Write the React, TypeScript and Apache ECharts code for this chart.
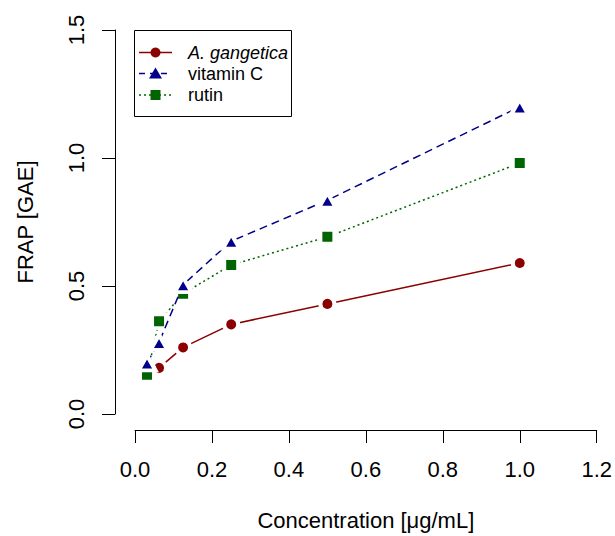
import React, { useEffect, useRef } from "react";
import * as echarts from "echarts";

const concentrations = [0.03125, 0.0625, 0.125, 0.25, 0.5, 1.0];
const gangetica = [null, 0.18, 0.26, 0.35, 0.43, 0.59];
const vitaminC = [0.2, 0.28, 0.505, 0.675, 0.835, 1.2];
const rutin = [0.153, 0.362, 0.47, 0.582, 0.692, 0.98];
const xTicks = [0, 0.2, 0.4, 0.6, 0.8, 1.0, 1.2];
const yTicks = [0, 0.5, 1.0, 1.5];
const seriesNames = ["A. gangetica", "vitamin C", "rutin"];

const RED = "#8B0000";
const BLUE = "#00008B";
const GREEN = "#006400";
const FONT = "'Liberation Sans', Arial, sans-serif";
const GAP = 4;

function pairs(vals: (number | null)[]) {
  const out: [number, number][] = [];
  vals.forEach((v, i) => {
    if (v !== null) out.push([concentrations[i], v]);
  });
  return out;
}

export default function App() {
  const ref = useRef<HTMLDivElement>(null);
  useEffect(() => {
    if (!ref.current) return;
    const chart = echarts.init(ref.current, undefined, { renderer: "svg" });
    const ly = [52.5, 73.5, 95];
    const option: any = {
      animation: false,
      backgroundColor: "#fff",
      textStyle: { fontFamily: FONT },
      grid: { left: 135, right: 17, top: 30, bottom: 115, containLabel: false },
      xAxis: {
        type: "value",
        min: 0,
        max: 1.2,
        interval: 0.2,
        offset: 16,
        splitLine: { show: false },
        axisLine: { show: true, onZero: false, lineStyle: { color: "#000", width: 1 } },
        axisTick: { show: true, length: 13, lineStyle: { color: "#000", width: 1 } },
        axisLabel: {
          color: "#000",
          fontSize: 22,
          fontFamily: FONT,
          margin: 28,
          formatter: (v: number) => (xTicks.some((t) => Math.abs(t - v) < 1e-9) ? v.toFixed(1) : ""),
        },
        name: "Concentration [\u03BCg/mL]",
        nameLocation: "middle",
        nameGap: 79,
        nameTextStyle: { color: "#000", fontSize: 22, fontFamily: FONT },
      },
      yAxis: {
        type: "value",
        min: 0,
        max: 1.5,
        interval: 0.5,
        offset: 20,
        splitLine: { show: false },
        axisLine: { show: true, onZero: false, lineStyle: { color: "#000", width: 1 } },
        axisTick: { show: true, length: 13, lineStyle: { color: "#000", width: 1 } },
        axisLabel: {
          color: "#000",
          fontSize: 22,
          fontFamily: FONT,
          margin: 28,
          rotate: 90,
          formatter: (v: number) => (yTicks.some((t) => Math.abs(t - v) < 1e-9) ? v.toFixed(1) : ""),
        },
        name: "FRAP [GAE]",
        nameLocation: "middle",
        nameGap: 79,
        nameTextStyle: { color: "#000", fontSize: 22, fontFamily: FONT },
      },
      series: [
        {
          name: seriesNames[0],
          type: "line",
          data: pairs(gangetica),
          symbol: "circle",
          symbolSize: 10 + GAP,
          itemStyle: { color: RED, borderColor: "#fff", borderWidth: GAP },
          lineStyle: { color: RED, width: 1.5, type: "solid" },
          z: 2,
        },
        {
          name: seriesNames[1],
          type: "line",
          data: pairs(vitaminC),
          symbol: "triangle",
          symbolSize: [13 + GAP, 11 + GAP],
          itemStyle: { color: BLUE, borderColor: "#fff", borderWidth: GAP },
          lineStyle: { color: BLUE, width: 1.5, type: [8, 5] },
          z: 3,
        },
        {
          name: seriesNames[2],
          type: "line",
          data: pairs(rutin),
          symbol: "rect",
          symbolSize: 10 + GAP,
          itemStyle: { color: GREEN, borderColor: "#fff", borderWidth: GAP },
          lineStyle: { color: GREEN, width: 1.5, type: [2, 3] },
          z: 2,
        },
      ],
      graphic: [
        {
          type: "rect",
          shape: { x: 134.5, y: 30.5, width: 157, height: 86 },
          style: { fill: "#fff", stroke: "#000", lineWidth: 1 },
          z: 10,
        },
        {
          type: "line",
          shape: { x1: 139, y1: ly[0], x2: 172, y2: ly[0] },
          style: { stroke: RED, lineWidth: 1.5 },
          z: 11,
        },
        { type: "circle", shape: { cx: 155.5, cy: ly[0], r: 5 }, style: { fill: RED }, z: 12 },
        {
          type: "line",
          shape: { x1: 139, y1: ly[1], x2: 172, y2: ly[1] },
          style: { stroke: BLUE, lineWidth: 1.5, lineDash: [6, 5] },
          z: 11,
        },
        {
          type: "polygon",
          shape: { points: [[155.5, ly[1] - 6], [162, ly[1] + 5], [149, ly[1] + 5]] },
          style: { fill: BLUE },
          z: 12,
        },
        {
          type: "line",
          shape: { x1: 139, y1: ly[2], x2: 172, y2: ly[2] },
          style: { stroke: GREEN, lineWidth: 1.5, lineDash: [2, 3] },
          z: 11,
        },
        { type: "rect", shape: { x: 150.5, y: ly[2] - 5, width: 10, height: 10 }, style: { fill: GREEN }, z: 12 },
        {
          type: "text",
          x: 188,
          y: ly[0],
          style: { text: seriesNames[0], fill: "#000", font: `italic 18px ${FONT}`, verticalAlign: "middle" },
          z: 12,
        },
        {
          type: "text",
          x: 188,
          y: ly[1],
          style: { text: seriesNames[1], fill: "#000", font: `18px ${FONT}`, verticalAlign: "middle" },
          z: 12,
        },
        {
          type: "text",
          x: 188,
          y: ly[2],
          style: { text: seriesNames[2], fill: "#000", font: `18px ${FONT}`, verticalAlign: "middle" },
          z: 12,
        },
      ],
    };
    chart.setOption(option);
    return () => chart.dispose();
  }, []);
  return <div ref={ref} style={{ position: "fixed", left: 0, top: 0, width: 615, height: 536 }} />;
}
